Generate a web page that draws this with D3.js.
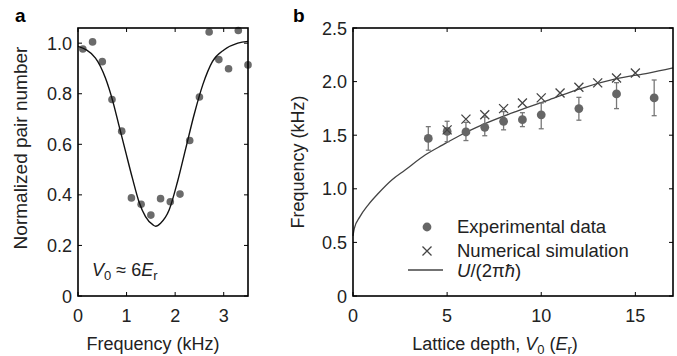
<!DOCTYPE html>
<html>
<head>
<meta charset="utf-8">
<script src="https://cdn.jsdelivr.net/npm/d3@7"></script>
<style>
  body { margin: 0; background: #fff; }
  svg { display: block; font-family: "Liberation Sans", Arial, sans-serif; }
</style>
</head>
<body>
<svg id="chart"></svg>
<script>
// panel a: pair number vs modulation frequency
const freqA = [0.1, 0.3, 0.5, 0.7, 0.9, 1.1, 1.3, 1.5, 1.7, 1.9, 2.1, 2.3, 2.5, 2.7, 2.9, 3.1, 3.3, 3.5];
const pairA = [0.977, 1.005, 0.927, 0.777, 0.652, 0.388, 0.363, 0.32, 0.385, 0.373, 0.403, 0.615, 0.787, 1.044, 0.935, 0.899, 1.05, 0.914];
// fitted curve
const fitAx = [0, 0.36, 0.565, 0.717, 0.84, 0.98, 1.12, 1.255, 1.39, 1.545, 1.6, 1.70, 1.876, 2.05, 2.22, 2.39, 2.57, 2.77, 3.01, 3.29, 3.5];
const fitAy = [0.987, 0.941, 0.862, 0.77, 0.677, 0.571, 0.466, 0.373, 0.314, 0.281, 0.276, 0.288, 0.34, 0.453, 0.585, 0.717, 0.836, 0.928, 0.974, 1.0, 1.007];
const ticksAx = [0, 1, 2, 3];
const ticksAy = [0, 0.2, 0.4, 0.6, 0.8, 1.0];

// panel b: frequency vs lattice depth
const depthExp = [4, 5, 6, 7, 8, 9, 10, 12, 14, 16];
const freqExp = [1.47, 1.535, 1.53, 1.573, 1.63, 1.645, 1.69, 1.748, 1.885, 1.848];
const errLow = [1.36, 1.44, 1.45, 1.495, 1.55, 1.58, 1.56, 1.64, 1.748, 1.682];
const errHigh = [1.58, 1.63, 1.62, 1.67, 1.72, 1.71, 1.80, 1.853, 1.99, 2.015];
const depthSim = [5, 6, 7, 8, 9, 10, 11, 12, 13, 14, 15];
const freqSim = [1.55, 1.65, 1.69, 1.748, 1.80, 1.848, 1.894, 1.947, 1.988, 2.034, 2.08];
const curveBx = [0, 0.07, 0.37, 0.81, 1.35, 2.06, 2.77, 3.83, 4.77, 5.65, 6.89, 8.65, 10.42, 12.18, 13.95, 15.7, 17];
const curveBy = [0.56, 0.63, 0.74, 0.85, 0.958, 1.082, 1.175, 1.315, 1.41, 1.495, 1.598, 1.72, 1.83, 1.94, 2.025, 2.08, 2.128];
const ticksBx = [0, 5, 10, 15];
const ticksBy = [0, 0.5, 1.0, 1.5, 2.0, 2.5];

const W = 677, H = 356;
const svg = d3.select("#chart").attr("width", W).attr("height", H);

const fs = 18;

function frame(x, y, xt, yt, xfmt, yfmt) {
    const g = svg.append("g");
    const [x0, x1] = x.range(), [y0, y1] = y.range();
    const tl = 4;
    // ticks on all four sides, pointing in
    xt.forEach(v => {
        g.append("line").attr("x1", x(v)).attr("x2", x(v)).attr("y1", y0).attr("y2", y0 - tl).attr("stroke", "#000");
        g.append("line").attr("x1", x(v)).attr("x2", x(v)).attr("y1", y1).attr("y2", y1 + tl).attr("stroke", "#000");
        g.append("text").attr("x", x(v)).attr("y", y0 + 26).attr("text-anchor", "middle")
            .style("font-size", fs + "px").attr("fill", "#222").text(xfmt(v));
    });
    yt.forEach(v => {
        g.append("line").attr("x1", x0).attr("x2", x0 + tl).attr("y1", y(v)).attr("y2", y(v)).attr("stroke", "#000");
        g.append("line").attr("x1", x1).attr("x2", x1 - tl).attr("y1", y(v)).attr("y2", y(v)).attr("stroke", "#000");
        g.append("text").attr("x", x0 - 6).attr("y", y(v) + 6.5).attr("text-anchor", "end")
            .style("font-size", fs + "px").attr("fill", "#222").text(yfmt(v));
    });
    g.append("rect").attr("x", x0).attr("y", y1).attr("width", x1 - x0).attr("height", y0 - y1)
        .attr("fill", "none").attr("stroke", "#000").attr("stroke-width", 1.6);
    return g;
}

const fmt1 = v => v === 0 ? "0" : d3.format(".1f")(v);

// ---------- panel a ----------
const xA = d3.scaleLinear().domain([0, 3.5]).range([78, 248]);
const yA = d3.scaleLinear().domain([0, 1.06]).range([296, 28]);

const gA = svg.append("g");
gA.selectAll("circle").data(freqA).join("circle")
    .attr("cx", d => xA(d)).attr("cy", (d, i) => yA(pairA[i])).attr("r", 3.8).attr("fill", "#6b6b6b");

gA.append("path")
    .datum(fitAx.map((d, i) => [d, fitAy[i]]))
    .attr("d", d3.line().x(d => xA(d[0])).y(d => yA(d[1])).curve(d3.curveMonotoneX))
    .attr("fill", "none").attr("stroke", "#111").attr("stroke-width", 1.4);

frame(xA, yA, ticksAx, ticksAy, d => String(d), fmt1);

const vA = svg.append("text").attr("x", 92).attr("y", 276).style("font-size", fs + "px").attr("fill", "#222");
vA.append("tspan").style("font-style", "italic").text("V");
vA.append("tspan").attr("dy", 4).style("font-size", "13px").text("0");
vA.append("tspan").attr("dy", -4).text(" \u2248 6");
vA.append("tspan").style("font-style", "italic").text("E");
vA.append("tspan").attr("dy", 4).style("font-size", "13px").text("r");

svg.append("text").attr("x", 153).attr("y", 350).attr("text-anchor", "middle")
    .style("font-size", fs + "px").attr("fill", "#222").text("Frequency (kHz)");
svg.append("text").attr("transform", "translate(27,148) rotate(-90)").attr("text-anchor", "middle")
    .style("font-size", "19px").attr("fill", "#222").text("Normalized pair number");
svg.append("text").attr("x", 15).attr("y", 22).style("font-size", "19px").style("font-weight", "bold").text("a");

// ---------- panel b ----------
const xB = d3.scaleLinear().domain([0, 17]).range([353, 673]);
const yB = d3.scaleLinear().domain([0, 2.5]).range([296, 28]);

const gB = svg.append("g");
gB.append("path")
    .datum(curveBx.map((d, i) => [d, curveBy[i]]))
    .attr("d", d3.line().x(d => xB(d[0])).y(d => yB(d[1])).curve(d3.curveMonotoneX))
    .attr("fill", "none").attr("stroke", "#444").attr("stroke-width", 1.3);

const eb = gB.selectAll("g.err").data(depthExp).join("g").attr("class", "err")
    .attr("stroke", "#777").attr("stroke-width", 1.3);
eb.append("line").attr("x1", d => xB(d)).attr("x2", d => xB(d))
    .attr("y1", (d, i) => yB(errLow[i])).attr("y2", (d, i) => yB(errHigh[i]));
eb.append("line").attr("x1", d => xB(d) - 2.5).attr("x2", d => xB(d) + 2.5)
    .attr("y1", (d, i) => yB(errLow[i])).attr("y2", (d, i) => yB(errLow[i]));
eb.append("line").attr("x1", d => xB(d) - 2.5).attr("x2", d => xB(d) + 2.5)
    .attr("y1", (d, i) => yB(errHigh[i])).attr("y2", (d, i) => yB(errHigh[i]));

gB.selectAll("circle").data(depthExp).join("circle")
    .attr("cx", d => xB(d)).attr("cy", (d, i) => yB(freqExp[i])).attr("r", 4.4).attr("fill", "#666");

const cross = (cx, cy, s) => `M${cx - s},${cy - s}L${cx + s},${cy + s}M${cx - s},${cy + s}L${cx + s},${cy - s}`;
gB.selectAll("path.sim").data(depthSim).join("path").attr("class", "sim")
    .attr("d", (d, i) => cross(xB(d), yB(freqSim[i]), 4.5))
    .attr("stroke", "#444").attr("stroke-width", 1.3).attr("fill", "none");

frame(xB, yB, ticksBx, ticksBy, d => String(d), fmt1);

// legend
const lg = svg.append("g").style("font-size", "18.5px").attr("fill", "#222");
lg.append("circle").attr("cx", 427).attr("cy", 227).attr("r", 4.4).attr("fill", "#666");
lg.append("text").attr("x", 457).attr("y", 233).text("Experimental data");
lg.append("path").attr("d", cross(427, 251, 4.5)).attr("stroke", "#444").attr("stroke-width", 1.3);
lg.append("text").attr("x", 457).attr("y", 257).text("Numerical simulation");
lg.append("line").attr("x1", 408).attr("x2", 443).attr("y1", 270).attr("y2", 270).attr("stroke", "#444").attr("stroke-width", 1.3);
const ut = lg.append("text").attr("x", 457).attr("y", 277);
ut.append("tspan").style("font-style", "italic").text("U");
ut.append("tspan").text("/(2\u03c0");
ut.append("tspan").style("font-style", "italic").text("\u0127");
ut.append("tspan").text(")");

const xt = svg.append("text").attr("x", 495).attr("y", 350).attr("text-anchor", "middle")
    .style("font-size", fs + "px").attr("fill", "#222");
xt.append("tspan").text("Lattice depth, ");
xt.append("tspan").style("font-style", "italic").text("V");
xt.append("tspan").attr("dy", 4).style("font-size", "13px").text("0");
xt.append("tspan").attr("dy", -4).text(" (");
xt.append("tspan").style("font-style", "italic").text("E");
xt.append("tspan").attr("dy", 4).style("font-size", "13px").text("r");
xt.append("tspan").attr("dy", -4).text(")");

svg.append("text").attr("transform", "translate(304,162) rotate(-90)").attr("text-anchor", "middle")
    .style("font-size", fs + "px").attr("fill", "#222").text("Frequency (kHz)");
svg.append("text").attr("x", 293).attr("y", 22).style("font-size", "19px").style("font-weight", "bold").text("b");
</script>
</body>
</html>
